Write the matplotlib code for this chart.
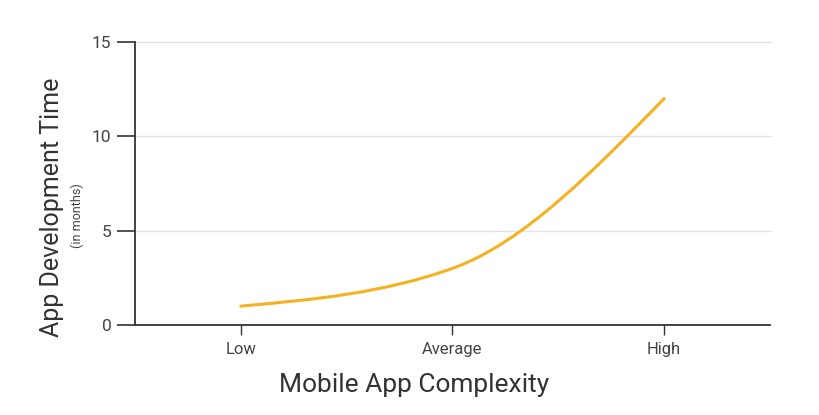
import numpy as np
import matplotlib.pyplot as plt
from matplotlib.path import Path
from matplotlib.patches import PathPatch

plt.rcParams['font.family'] = ['Roboto', 'DejaVu Sans']

categories = ['Low', 'Average', 'High']
months = [1, 3, 12]
y_ticks = [0, 5, 10, 15]

line_color = '#f4b223'
axis_color = '#333333'
grid_color = '#e3e3e3'


def monotone_tangents(x, y):
    # same tangents as d3.curveMonotoneX
    x = np.asarray(x, float)
    y = np.asarray(y, float)
    h = np.diff(x)
    s = np.diff(y) / h
    t = np.zeros(len(x))
    for i in range(1, len(x) - 1):
        p = (s[i - 1] * h[i] + s[i] * h[i - 1]) / (h[i - 1] + h[i])
        t[i] = (np.sign(s[i - 1]) + np.sign(s[i])) * min(abs(s[i - 1]), abs(s[i]), 0.5 * abs(p))
    t[0] = (3 * s[0] - t[1]) / 2
    t[-1] = (3 * s[-1] - t[-2]) / 2
    return t


xs = np.arange(len(categories))
tang = monotone_tangents(xs, months)

verts = [(xs[0], months[0])]
codes = [Path.MOVETO]
for i in range(len(xs) - 1):
    dx = (xs[i + 1] - xs[i]) / 3
    verts += [(xs[i] + dx, months[i] + dx * tang[i]),
              (xs[i + 1] - dx, months[i + 1] - dx * tang[i + 1]),
              (xs[i + 1], months[i + 1])]
    codes += [Path.CURVE4] * 3

fig = plt.figure(figsize=(8.2, 4.15), dpi=100)
ax = fig.add_axes([0.1646, 0.2169, 0.7744, 0.6819])

ax.add_patch(PathPatch(Path(verts, codes), facecolor='none', edgecolor=line_color,
                       lw=2.2, capstyle='round', zorder=3))

ax.set_xlim(-0.5, 2.5)
ax.set_ylim(0, 15)
ax.set_yticks(y_ticks)
ax.set_xticks(xs)
ax.set_xticklabels(categories)

for yv in y_ticks[1:]:
    ax.plot([-0.5, 2.505], [yv, yv], color=grid_color, lw=1, zorder=1, clip_on=False)

for side in ['top', 'right']:
    ax.spines[side].set_visible(False)
for side in ['left', 'bottom']:
    ax.spines[side].set_color(axis_color)
    ax.spines[side].set_linewidth(1.3)

ax.tick_params(axis='y', length=13, width=1.2, color=axis_color, labelsize=12.5,
               labelcolor='#444444', pad=4)
ax.tick_params(axis='x', length=7, width=1, color=axis_color, labelsize=12,
               labelcolor='#444444', pad=5)

fig.text(414 / 820, 1 - 385 / 415, 'Mobile App Complexity', ha='center', va='center',
         fontsize=19, color='#333333')

fig.text(0.064, 0.50, 'App Development Time', rotation=90, ha='center', va='center',
         fontsize=18, color='#333333', family=['Liberation Sans Narrow', 'Roboto'])
fig.text(0.094, 0.48, '(in months)', rotation=90, ha='center', va='center',
         fontsize=9, color='#444444', family=['Liberation Sans Narrow', 'Roboto'])

fig.savefig('out.png', dpi=100)
